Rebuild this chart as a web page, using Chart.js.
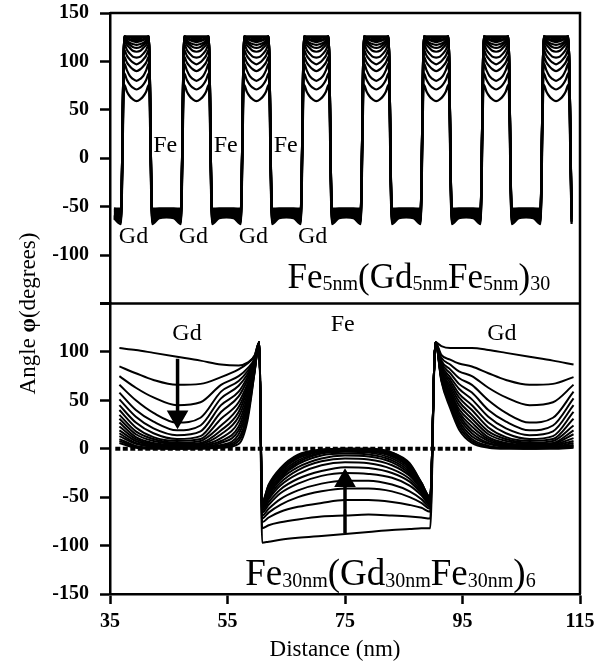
<!DOCTYPE html>
<html>
<head>
<meta charset="utf-8">
<script src="https://cdn.jsdelivr.net/npm/chart.js@4.4.1/dist/chart.umd.min.js"></script>
<style>
	html, body { margin: 0; padding: 0; background: #fff; }
	canvas { display: block; }
</style>
</head>
<body>
<canvas id="angle-chart" width="611" height="670"></canvas>
<script>
// ---- top panel: Fe5nm(Gd5nmFe5nm)30 ----
// start of every Gd layer (nm); the last one only closes the final Fe layer
const topLayerStarts = [36.87, 47.07, 57.27, 67.47, 77.67, 87.87, 98.07, 108.27, 118.47];
const topGdOffsets = [0.55, 1.0, 1.5, 2.0, 2.65, 3.3, 3.8, 4.3, 4.75];
const topGdAngles = [
	[126, 126, 126, 126, 126, 126, 126, 126, 126],
	[126, 125, 125, 124, 124, 124, 125, 125, 126],
	[126, 124, 123, 122, 122, 122, 123, 124, 126],
	[126, 124, 122, 121, 120, 121, 122, 124, 126],
	[125, 122, 119, 118, 117, 118, 119, 122, 125],
	[124, 120, 117, 115, 114, 115, 117, 120, 124],
	[122, 117, 114, 111, 110, 111, 114, 117, 122],
	[118, 112, 108, 105, 104, 105, 108, 112, 118],
	[112, 106, 102, 99, 97, 99, 102, 106, 112],
	[105, 99, 95, 92, 90, 92, 95, 99, 105],
	[98, 91, 85, 82, 80, 82, 85, 91, 98],
	[88, 81, 76, 73, 71, 73, 76, 81, 88],
	[76, 69, 64, 61, 59, 61, 64, 69, 76],
];
const topFeOffsets = [-4.9, -3.7, -2.45, -1.2, 0];
const topFeAngles = [
	[-52, -52, -52, -52, -52],
	[-53, -52, -52, -52, -53],
	[-54, -53, -53, -53, -54],
	[-55, -54, -53, -54, -55],
	[-56, -55, -54, -55, -56],
	[-57, -56, -55, -56, -57],
	[-58, -57, -56, -57, -58],
	[-60, -58, -57, -58, -60],
	[-61, -59, -58, -59, -61],
	[-63, -59, -58, -59, -63],
	[-65, -60, -59, -60, -65],
	[-66, -61, -60, -61, -66],
	[-68, -62, -61, -62, -68],
];

// ---- bottom panel: Fe30nm(Gd30nmFe30nm)6 ----
const gdLayerStarts = [30.4, 90.4];
const gdOffsets = [0, 1, 2.5, 4, 6.2, 9, 12, 16, 20, 23.5, 26.5, 28, 29.2, 30];
const gdAngles = [
	[110, 106, 104, 104, 104, 102, 99, 95, 91, 87, 86, 89, 96, 110],
	[110, 97, 92, 88, 85, 78, 71, 66, 67, 74, 82, 88, 96, 110],
	[110, 94, 87, 80, 75, 63, 53, 45, 48, 66, 75, 83, 93, 110],
	[110, 91, 82, 73, 66, 50, 37, 27, 32, 59, 70, 80, 92, 110],
	[110, 89, 78, 67, 58, 40, 28, 19, 24, 52, 65, 77, 91, 110],
	[110, 87, 74, 62, 51, 33, 21, 14, 18, 45, 59, 74, 90, 110],
	[110, 85, 71, 57, 45, 27, 16, 10, 13, 38, 54, 71, 89, 110],
	[110, 83, 68, 53, 40, 22, 12, 8, 10, 31, 48, 67, 88, 110],
	[110, 81, 65, 49, 35, 18, 10, 6, 8, 24, 43, 64, 87, 110],
	[110, 80, 62, 45, 31, 15, 8, 5, 6, 19, 38, 61, 86, 110],
	[110, 78, 59, 41, 27, 12, 6, 4, 5, 15, 33, 57, 85, 110],
	[110, 77, 57, 38, 23, 10, 5, 3, 4, 11, 28, 53, 84, 110],
	[110, 76, 54, 35, 19, 8, 4, 2, 3, 8, 23, 49, 83, 110],
	[110, 74, 52, 32, 16, 6, 3, 2, 2, 6, 19, 45, 82, 110],
	[110, 73, 49, 29, 13, 5, 2, 1, 2, 4, 15, 41, 81, 110],
	[110, 72, 47, 26, 10, 3, 1, 1, 1, 3, 11, 37, 80, 110],
	[110, 71, 45, 23, 8, 2, 1, 0, 1, 2, 8, 33, 79, 110],
	[110, 70, 42, 20, 6, 1, 0, 0, 0, 1, 5, 29, 78, 110],
];
const feDistance = [60.9, 62, 64, 67, 71, 75, 79, 83, 86, 88, 89.5];
const feAngles = [
	[-97, -96, -94, -92, -90, -88, -86, -84, -83, -82, -82],
	[-82, -79, -76, -73, -70, -69, -68, -69, -70, -71, -72],
	[-76, -71, -65, -60, -56, -53, -53, -55, -58, -61, -65],
	[-72, -66, -58, -50, -44, -41, -41, -44, -50, -56, -62],
	[-69, -62, -52, -43, -36, -33, -33, -37, -44, -52, -60],
	[-66, -58, -46, -36, -28, -25, -26, -30, -38, -48, -58],
	[-64, -55, -42, -31, -23, -19, -20, -25, -34, -46, -57],
	[-62, -52, -38, -26, -17, -14, -15, -21, -31, -44, -56],
	[-61, -50, -35, -22, -13, -10, -11, -17, -28, -42, -55],
	[-60, -48, -32, -19, -10, -7, -8, -14, -26, -41, -54],
	[-59, -46, -30, -16, -7, -5, -6, -12, -24, -40, -53],
	[-58, -44, -28, -14, -5, -3, -4, -10, -22, -39, -52],
	[-57, -42, -26, -12, -4, -2, -3, -8, -20, -38, -52],
	[-57, -41, -24, -10, -3, -1, -2, -7, -19, -37, -51],
	[-56, -40, -23, -9, -2, -1, -1, -6, -18, -36, -51],
	[-56, -39, -22, -8, -2, 0, -1, -5, -17, -36, -50],
	[-55, -38, -21, -7, -1, 0, 0, -4, -16, -35, -50],
	[-55, -37, -20, -6, -1, 0, 0, -4, -15, -35, -50],
];
const zeroLineDistance = [35.9, 96.6];
const arrowDistance = [46.5, 75];
const arrowTail = [93, -87];
const arrowHead = [33, -33];

// labels: [text, distance, angle at baseline]
const topLabels = [
	["Fe", 44.4, 6], ["Fe", 54.7, 6], ["Fe", 64.9, 6],
	["Gd", 39, -88], ["Gd", 49.2, -88], ["Gd", 59.4, -88], ["Gd", 69.5, -88],
];
const bottomLabels = [["Gd", 48.1, 112], ["Fe", 74.6, 122], ["Gd", 101.7, 112]];
const topTitle = [["Fe", 0], ["5nm", 1], ["(Gd", 0], ["5nm", 1], ["Fe", 0], ["5nm", 1], [")", 0], ["30", 1]];
const bottomTitle = [["Fe", 0], ["30nm", 1], ["(Gd", 0], ["30nm", 1], ["Fe", 0], ["30nm", 1], [")", 0], ["6", 1]];

const SERIF = '"Liberation Serif", "Times New Roman", serif';

function topCurve(i) {
	const pts = [];
	topLayerStarts.forEach((c) => {
		topFeOffsets.forEach((dx, j) => pts.push({ x: c + dx, y: topFeAngles[i][j] }));
		topGdOffsets.forEach((dx, j) => pts.push({ x: c + dx, y: topGdAngles[i][j] }));
	});
	return pts.filter((p) => p.x >= 35.5 && p.x <= 114);
}

function bottomCurve(i) {
	const left = gdOffsets.map((u, j) => ({ x: gdLayerStarts[0] + u, y: gdAngles[i][j] }));
	const fe = feDistance.map((d, j) => ({ x: d, y: feAngles[i][j] }));
	const right = gdOffsets.map((u, j) => ({ x: gdLayerStarts[1] + u, y: gdAngles[i][j] }));
	return [...left, ...fe, ...right].filter((p) => p.x >= 36.5 && p.x <= 114);
}

const datasets = [];
topGdAngles.forEach((_, i) => {
	datasets.push({
		data: topCurve(i),
		yAxisID: "yTop",
		borderColor: "#000",
		borderWidth: 2.2,
		pointRadius: 0,
		cubicInterpolationMode: "monotone",
	});
});
gdAngles.forEach((_, i) => {
	datasets.push({
		data: bottomCurve(i),
		yAxisID: "yBot",
		borderColor: "#000",
		borderWidth: 2,
		pointRadius: 0,
		cubicInterpolationMode: "monotone",
	});
});
datasets.push({
	data: zeroLineDistance.map((d) => ({ x: d, y: 0 })),
	yAxisID: "yBot",
	borderColor: "#000",
	borderWidth: 4,
	borderDash: [5, 2.5],
	pointRadius: 0,
});
arrowDistance.forEach((d, i) => {
	datasets.push({
		data: [{ x: d, y: arrowTail[i] }, { x: d, y: arrowHead[i] }],
		yAxisID: "yBot",
		borderColor: "#000",
		backgroundColor: "#000",
		borderWidth: 3.5,
		pointStyle: "triangle",
		pointRadius: [0, 9],
		pointRotation: arrowHead[i] < arrowTail[i] ? 180 : 0,
	});
});

function drawRich(ctx, parts, x, y, big) {
	ctx.textAlign = "left";
	parts.forEach(([t, sub]) => {
		ctx.font = sub ? `20px ${SERIF}` : `${big}px ${SERIF}`;
		ctx.fillText(t, x, sub ? y + 2 : y);
		x += ctx.measureText(t).width;
	});
}

const textPlugin = {
	id: "panelText",
	afterDraw(chart) {
		const { ctx, chartArea, scales } = chart;
		const { x, yTop, yBot } = scales;
		ctx.save();
		ctx.fillStyle = "#000";
		ctx.strokeStyle = "#000";

		// frame of both panels
		ctx.lineWidth = 2.5;
		ctx.beginPath();
		ctx.moveTo(chartArea.left, chartArea.top);
		ctx.lineTo(chartArea.right, chartArea.top);
		ctx.lineTo(chartArea.right, chartArea.bottom);
		ctx.moveTo(chartArea.left - 10, yTop.bottom);
		ctx.lineTo(chartArea.right, yTop.bottom);
		ctx.stroke();

		ctx.textBaseline = "alphabetic";
		ctx.textAlign = "center";
		ctx.font = `24px ${SERIF}`;
		topLabels.forEach(([t, d, a]) => ctx.fillText(t, x.getPixelForValue(d), yTop.getPixelForValue(a)));
		bottomLabels.forEach(([t, d, a]) => ctx.fillText(t, x.getPixelForValue(d), yBot.getPixelForValue(a)));

		drawRich(ctx, topTitle, x.getPixelForValue(65.2), yTop.getPixelForValue(-134.5), 35);
		drawRich(ctx, bottomTitle, x.getPixelForValue(58.0), yBot.getPixelForValue(-141), 37);

		// x axis title
		ctx.textAlign = "center";
		ctx.font = `23px ${SERIF}`;
		ctx.fillText("Distance (nm)", x.getPixelForValue(73.3), chart.height - 14);

		// y axis title, rotated
		const parts = [["Angle ", ""], ["\u03c6", "bold "], ["(degrees)", ""]];
		let total = 0;
		parts.forEach(([t, w]) => {
			ctx.font = `${w}23px ${SERIF}`;
			total += ctx.measureText(t).width;
		});
		ctx.translate(35, (yTop.top + yBot.bottom) / 2 + 10);
		ctx.rotate(-Math.PI / 2);
		ctx.textAlign = "left";
		let pos = -total / 2;
		parts.forEach(([t, w]) => {
			ctx.font = `${w}23px ${SERIF}`;
			ctx.fillText(t, pos, 0);
			pos += ctx.measureText(t).width;
		});
		ctx.restore();
	},
};

const tickFont = { family: SERIF, size: 20, weight: "bold" };
const yAxis = (hide) => ({
	type: "linear",
	position: "left",
	stack: "panels",
	stackWeight: 1,
	min: -150,
	max: 150,
	ticks: {
		stepSize: 50,
		color: "#000",
		font: tickFont,
		padding: 11,
		callback: (v) => (v === hide ? "" : v),
	},
	grid: { drawOnChartArea: false, tickLength: 10, tickWidth: 2.5, color: "#000" },
	border: { color: "#000", width: 2.5 },
	afterFit: (s) => {
		s.width = 100;
		s.paddingTop = 0;
		s.paddingBottom = 0;
	},
});

new Chart(document.getElementById("angle-chart"), {
	type: "line",
	data: { datasets: datasets },
	options: {
		responsive: false,
		animation: false,
		devicePixelRatio: 1,
		layout: { padding: { left: 10, right: 31, top: 13, bottom: 0 } },
		plugins: { legend: { display: false }, tooltip: { enabled: false } },
		scales: {
			x: {
				type: "linear",
				min: 35,
				max: 115,
				ticks: { stepSize: 20, color: "#000", font: tickFont, padding: 6 },
				grid: { drawOnChartArea: false, tickLength: 10, tickWidth: 2.5, color: "#000" },
				border: { color: "#000", width: 2.5 },
				afterFit: (s) => {
					s.height = 76;
					s.paddingLeft = 0;
					s.paddingRight = 0;
				},
			},
			yBot: yAxis(150),
			yTop: yAxis(-150),
		},
	},
	plugins: [textPlugin],
});
</script>
</body>
</html>
